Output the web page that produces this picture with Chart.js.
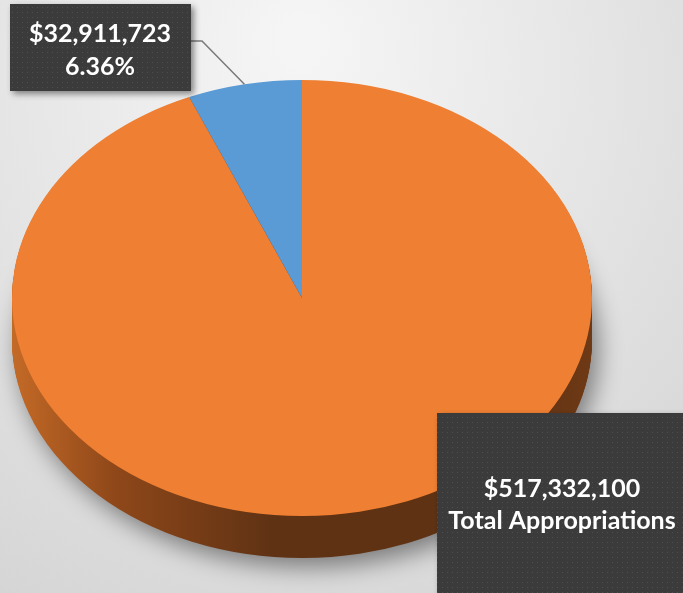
<!DOCTYPE html>
<html>
<head>
<meta charset="utf-8">
<script src="https://cdn.jsdelivr.net/npm/chart.js@4.4.1/dist/chart.umd.min.js"></script>
<style>
  html, body { margin: 0; padding: 0; background: #e6e6e6; }
  #wrap { position: relative; width: 683px; height: 593px; }
</style>
</head>
<body>
<div id="wrap"><canvas id="budget-pie" width="683" height="593"></canvas></div>
<script>
const categories = ["Other Appropriations", "Program Funds"];
const amounts = [484420377, 32911723];
const sliceColors = ["#ef7f32", "#5b9bd5"];
const totalCaption = "Total Appropriations";

// tilt of the pie: vertical squash and thickness of the rim
const TILT = 0.752;
const DEPTH = 42;
const CENTER_Y = 298;

const fmtMoney = (v) => "$" + v.toLocaleString("en-US");

function dotPattern(ctx) {
  const c = document.createElement("canvas");
  c.width = 5;
  c.height = 5;
  const p = c.getContext("2d");
  p.fillStyle = "#3b3b3b";
  p.fillRect(0, 0, 5, 5);
  p.fillStyle = "#4f4f4f";
  p.fillRect(2, 2, 1, 1);
  return ctx.createPattern(c, "repeat");
}

function labelBox(ctx, x, y, w, h, lines, centers) {
  ctx.save();
  ctx.shadowColor = "rgba(0,0,0,0.45)";
  ctx.shadowBlur = 6;
  ctx.shadowOffsetX = 3;
  ctx.shadowOffsetY = 3;
  ctx.fillStyle = dotPattern(ctx);
  ctx.fillRect(x, y, w, h);
  ctx.restore();

  ctx.save();
  ctx.fillStyle = "#ffffff";
  ctx.font = "bold 25px Lato";
  ctx.textAlign = "center";
  ctx.textBaseline = "middle";
  lines.forEach((t, i) => ctx.fillText(t, centers[i][0], centers[i][1]));
  ctx.restore();
}

const pie3d = {
  id: "pie3d",
  beforeDraw(chart) {
    const { ctx, width, height } = chart;
    const g = ctx.createRadialGradient(300, 40, 20, 300, 120, 620);
    g.addColorStop(0, "#f5f5f5");
    g.addColorStop(0.5, "#e4e4e4");
    g.addColorStop(1, "#d2d2d2");
    ctx.save();
    ctx.fillStyle = g;
    ctx.fillRect(0, 0, width, height);
    ctx.restore();
  },
  beforeDatasetsDraw(chart) {
    const { ctx, chartArea } = chart;
    const meta = chart.getDatasetMeta(0);
    const cy = (chartArea.top + chartArea.bottom) / 2;

    // rim colour darkens towards the front of the disc
    const rim = ctx.createLinearGradient(chartArea.left, 0, chartArea.right, 0);
    rim.addColorStop(0, "#c46a27");
    rim.addColorStop(0.18, "#8e4719");
    rim.addColorStop(0.45, "#5f3214");
    rim.addColorStop(0.85, "#5f3214");
    rim.addColorStop(1, "#6e3915");

    for (let d = DEPTH; d >= 1; d--) {
      ctx.save();
      if (d === DEPTH) {
        ctx.shadowColor = "rgba(0,0,0,0.45)";
        ctx.shadowBlur = 24;
        ctx.shadowOffsetX = 6;
        ctx.shadowOffsetY = 9;
      }
      ctx.translate(0, CENTER_Y + d);
      ctx.scale(1, TILT);
      ctx.translate(0, -cy);
      meta.data.forEach((el) => {
        const saved = el.options;
        el.options = Object.assign({}, saved, { backgroundColor: rim, borderWidth: 0 });
        el.draw(ctx);
        el.options = saved;
      });
      ctx.restore();
    }

    ctx.save();
    ctx.translate(0, CENTER_Y);
    ctx.scale(1, TILT);
    ctx.translate(0, -cy);
  },
  afterDatasetsDraw(chart) {
    const { ctx, chartArea } = chart;
    ctx.restore();

    const meta = chart.getDatasetMeta(0);
    const cy = (chartArea.top + chartArea.bottom) / 2;
    const total = amounts.reduce((a, b) => a + b, 0);

    // leader line from the small slice to its label
    const arc = meta.data[1];
    const mid = (arc.startAngle + arc.endAngle) / 2;
    const ex = arc.x + arc.outerRadius * Math.cos(mid);
    const ey = CENTER_Y + (arc.y + arc.outerRadius * Math.sin(mid) - cy) * TILT;
    ctx.save();
    ctx.strokeStyle = "#7a7a7a";
    ctx.lineWidth = 1.5;
    ctx.beginPath();
    ctx.moveTo(191, 41);
    ctx.lineTo(202, 41);
    ctx.lineTo(ex, ey);
    ctx.stroke();
    ctx.restore();

    const pct = ((amounts[1] / total) * 100).toFixed(2) + "%";
    labelBox(ctx, 10, 4, 181, 87, [fmtMoney(amounts[1]), pct], [[100, 34], [100, 67]]);
    labelBox(ctx, 437, 413, 252, 190, [fmtMoney(total), totalCaption], [[562, 489], [562, 521]]);
  },
};

new Chart(document.getElementById("budget-pie"), {
  type: "pie",
  data: {
    labels: categories,
    datasets: [
      {
        data: amounts,
        backgroundColor: sliceColors,
        borderWidth: 0,
        clip: false,
      },
    ],
  },
  options: {
    responsive: false,
    animation: false,
    layout: { padding: { left: 12, right: 91, top: 6, bottom: 7 } },
    plugins: {
      legend: { display: false },
      tooltip: { enabled: false },
    },
  },
  plugins: [pie3d],
});
</script>
</body>
</html>
